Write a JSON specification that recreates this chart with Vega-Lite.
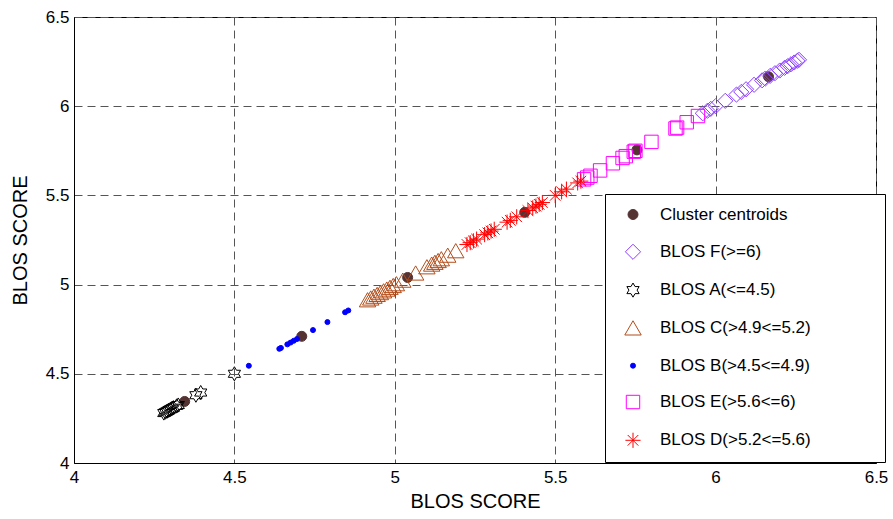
{
  "$schema": "https://vega.github.io/schema/vega-lite/v6.json",
  "width": 802,
  "height": 446,
  "autosize": "none",
  "padding": {"left": 74, "top": 17, "right": 17, "bottom": 56},
  "background": "white",
  "data": {
    "values": [
      {"series": "Cluster centroids", "score": 4.345},
      {"series": "Cluster centroids", "score": 4.71},
      {"series": "Cluster centroids", "score": 5.04},
      {"series": "Cluster centroids", "score": 5.405},
      {"series": "Cluster centroids", "score": 5.755},
      {"series": "Cluster centroids", "score": 6.165},

      {"series": "BLOS F(>=6)", "score": 5.96},
      {"series": "BLOS F(>=6)", "score": 5.975},
      {"series": "BLOS F(>=6)", "score": 5.985},
      {"series": "BLOS F(>=6)", "score": 6.0},
      {"series": "BLOS F(>=6)", "score": 6.03},
      {"series": "BLOS F(>=6)", "score": 6.065},
      {"series": "BLOS F(>=6)", "score": 6.08},
      {"series": "BLOS F(>=6)", "score": 6.095},
      {"series": "BLOS F(>=6)", "score": 6.12},
      {"series": "BLOS F(>=6)", "score": 6.145},
      {"series": "BLOS F(>=6)", "score": 6.155},
      {"series": "BLOS F(>=6)", "score": 6.17},
      {"series": "BLOS F(>=6)", "score": 6.185},
      {"series": "BLOS F(>=6)", "score": 6.2},
      {"series": "BLOS F(>=6)", "score": 6.215},
      {"series": "BLOS F(>=6)", "score": 6.225},
      {"series": "BLOS F(>=6)", "score": 6.235},
      {"series": "BLOS F(>=6)", "score": 6.245},
      {"series": "BLOS F(>=6)", "score": 6.255},
      {"series": "BLOS F(>=6)", "score": 6.26},

      {"series": "BLOS A(<=4.5)", "score": 4.28},
      {"series": "BLOS A(<=4.5)", "score": 4.285},
      {"series": "BLOS A(<=4.5)", "score": 4.29},
      {"series": "BLOS A(<=4.5)", "score": 4.295},
      {"series": "BLOS A(<=4.5)", "score": 4.3},
      {"series": "BLOS A(<=4.5)", "score": 4.305},
      {"series": "BLOS A(<=4.5)", "score": 4.31},
      {"series": "BLOS A(<=4.5)", "score": 4.32},
      {"series": "BLOS A(<=4.5)", "score": 4.325},
      {"series": "BLOS A(<=4.5)", "score": 4.38},
      {"series": "BLOS A(<=4.5)", "score": 4.395},
      {"series": "BLOS A(<=4.5)", "score": 4.5},

      {"series": "BLOS C(>4.9<=5.2)", "score": 4.915},
      {"series": "BLOS C(>4.9<=5.2)", "score": 4.925},
      {"series": "BLOS C(>4.9<=5.2)", "score": 4.935},
      {"series": "BLOS C(>4.9<=5.2)", "score": 4.945},
      {"series": "BLOS C(>4.9<=5.2)", "score": 4.955},
      {"series": "BLOS C(>4.9<=5.2)", "score": 4.965},
      {"series": "BLOS C(>4.9<=5.2)", "score": 4.975},
      {"series": "BLOS C(>4.9<=5.2)", "score": 4.985},
      {"series": "BLOS C(>4.9<=5.2)", "score": 4.995},
      {"series": "BLOS C(>4.9<=5.2)", "score": 5.005},
      {"series": "BLOS C(>4.9<=5.2)", "score": 5.025},
      {"series": "BLOS C(>4.9<=5.2)", "score": 5.065},
      {"series": "BLOS C(>4.9<=5.2)", "score": 5.1},
      {"series": "BLOS C(>4.9<=5.2)", "score": 5.115},
      {"series": "BLOS C(>4.9<=5.2)", "score": 5.125},
      {"series": "BLOS C(>4.9<=5.2)", "score": 5.135},
      {"series": "BLOS C(>4.9<=5.2)", "score": 5.145},
      {"series": "BLOS C(>4.9<=5.2)", "score": 5.165},
      {"series": "BLOS C(>4.9<=5.2)", "score": 5.19},

      {"series": "BLOS B(>4.5<=4.9)", "score": 4.545},
      {"series": "BLOS B(>4.5<=4.9)", "score": 4.64},
      {"series": "BLOS B(>4.5<=4.9)", "score": 4.645},
      {"series": "BLOS B(>4.5<=4.9)", "score": 4.665},
      {"series": "BLOS B(>4.5<=4.9)", "score": 4.675},
      {"series": "BLOS B(>4.5<=4.9)", "score": 4.685},
      {"series": "BLOS B(>4.5<=4.9)", "score": 4.695},
      {"series": "BLOS B(>4.5<=4.9)", "score": 4.745},
      {"series": "BLOS B(>4.5<=4.9)", "score": 4.79},
      {"series": "BLOS B(>4.5<=4.9)", "score": 4.845},
      {"series": "BLOS B(>4.5<=4.9)", "score": 4.855},

      {"series": "BLOS E(>5.6<=6)", "score": 5.59},
      {"series": "BLOS E(>5.6<=6)", "score": 5.6},
      {"series": "BLOS E(>5.6<=6)", "score": 5.61},
      {"series": "BLOS E(>5.6<=6)", "score": 5.64},
      {"series": "BLOS E(>5.6<=6)", "score": 5.68},
      {"series": "BLOS E(>5.6<=6)", "score": 5.71},
      {"series": "BLOS E(>5.6<=6)", "score": 5.72},
      {"series": "BLOS E(>5.6<=6)", "score": 5.745},
      {"series": "BLOS E(>5.6<=6)", "score": 5.75},
      {"series": "BLOS E(>5.6<=6)", "score": 5.8},
      {"series": "BLOS E(>5.6<=6)", "score": 5.875},
      {"series": "BLOS E(>5.6<=6)", "score": 5.88},
      {"series": "BLOS E(>5.6<=6)", "score": 5.91},
      {"series": "BLOS E(>5.6<=6)", "score": 5.945},

      {"series": "BLOS D(>5.2<=5.6)", "score": 5.225},
      {"series": "BLOS D(>5.2<=5.6)", "score": 5.235},
      {"series": "BLOS D(>5.2<=5.6)", "score": 5.245},
      {"series": "BLOS D(>5.2<=5.6)", "score": 5.255},
      {"series": "BLOS D(>5.2<=5.6)", "score": 5.28},
      {"series": "BLOS D(>5.2<=5.6)", "score": 5.29},
      {"series": "BLOS D(>5.2<=5.6)", "score": 5.3},
      {"series": "BLOS D(>5.2<=5.6)", "score": 5.31},
      {"series": "BLOS D(>5.2<=5.6)", "score": 5.35},
      {"series": "BLOS D(>5.2<=5.6)", "score": 5.36},
      {"series": "BLOS D(>5.2<=5.6)", "score": 5.38},
      {"series": "BLOS D(>5.2<=5.6)", "score": 5.415},
      {"series": "BLOS D(>5.2<=5.6)", "score": 5.43},
      {"series": "BLOS D(>5.2<=5.6)", "score": 5.44},
      {"series": "BLOS D(>5.2<=5.6)", "score": 5.45},
      {"series": "BLOS D(>5.2<=5.6)", "score": 5.46},
      {"series": "BLOS D(>5.2<=5.6)", "score": 5.5},
      {"series": "BLOS D(>5.2<=5.6)", "score": 5.52},
      {"series": "BLOS D(>5.2<=5.6)", "score": 5.535},
      {"series": "BLOS D(>5.2<=5.6)", "score": 5.57},
      {"series": "BLOS D(>5.2<=5.6)", "score": 5.58}
    ]
  },
  "mark": {"type": "point", "opacity": 1, "strokeWidth": 1},
  "encoding": {
    "x": {
      "field": "score",
      "type": "quantitative",
      "title": "BLOS SCORE",
      "scale": {"domain": [4, 6.5], "nice": false, "zero": false},
      "axis": {
        "values": [4, 4.5, 5, 5.5, 6, 6.5],
        "format": ".1~f",
        "labelPadding": 6,
        "titleY": 28,
        "titleBaseline": "top"
      }
    },
    "y": {
      "field": "score",
      "type": "quantitative",
      "title": "BLOS SCORE",
      "scale": {"domain": [4, 6.5], "nice": false, "zero": false},
      "axis": {
        "values": [4, 4.5, 5, 5.5, 6, 6.5],
        "format": ".1~f",
        "labelPadding": 5,
        "titleX": -54,
        "titleY": 223,
        "titleAngle": -90,
        "titleAlign": "center",
        "titleBaseline": "middle"
      }
    },
    "shape": {
      "field": "series",
      "type": "nominal",
      "title": null,
      "legend": {"labelExpr": "datum.label + '\u00a0\u00a0\u00a0\u00a0\u00a0\u00a0\u00a0\u00a0\u00a0\u00a0\u00a0\u00a0\u00a0\u200b'"},
      "scale": {
        "domain": ["Cluster centroids", "BLOS F(>=6)", "BLOS A(<=4.5)", "BLOS C(>4.9<=5.2)", "BLOS B(>4.5<=4.9)", "BLOS E(>5.6<=6)", "BLOS D(>5.2<=5.6)"],
        "range": [
          "circle",
          "diamond",
          "M0,-1L0.289,-0.5L0.866,-0.5L0.577,0L0.866,0.5L0.289,0.5L0,1L-0.289,0.5L-0.866,0.5L-0.577,0L-0.866,-0.5L-0.289,-0.5Z",
          "triangle-up",
          "circle",
          "square",
          "M-1,0L1,0M0,-1L0,1M-0.7,-0.7L0.7,0.7M-0.7,0.7L0.7,-0.7"
        ]
      }
    },
    "size": {
      "field": "series",
      "type": "nominal",
      "title": null,
      "legend": {"labelExpr": "datum.label + '\u00a0\u00a0\u00a0\u00a0\u00a0\u00a0\u00a0\u00a0\u00a0\u00a0\u00a0\u00a0\u00a0\u200b'"},
      "scale": {
        "type": "ordinal",
        "domain": ["Cluster centroids", "BLOS F(>=6)", "BLOS A(<=4.5)", "BLOS C(>4.9<=5.2)", "BLOS B(>4.5<=4.9)", "BLOS E(>5.6<=6)", "BLOS D(>5.2<=5.6)"],
        "range": [100, 230, 200, 270, 25, 180, 230]
      }
    },
    "stroke": {
      "field": "series",
      "type": "nominal",
      "title": null,
      "legend": {"labelExpr": "datum.label + '\u00a0\u00a0\u00a0\u00a0\u00a0\u00a0\u00a0\u00a0\u00a0\u00a0\u00a0\u00a0\u00a0\u200b'"},
      "scale": {
        "domain": ["Cluster centroids", "BLOS F(>=6)", "BLOS A(<=4.5)", "BLOS C(>4.9<=5.2)", "BLOS B(>4.5<=4.9)", "BLOS E(>5.6<=6)", "BLOS D(>5.2<=5.6)"],
        "range": ["#553333", "#8B3DFF", "#000000", "#B34D1A", "#0000FF", "#FF00FF", "#FF0000"]
      }
    },
    "fill": {
      "field": "series",
      "type": "nominal",
      "title": null,
      "legend": {"labelExpr": "datum.label + '\u00a0\u00a0\u00a0\u00a0\u00a0\u00a0\u00a0\u00a0\u00a0\u00a0\u00a0\u00a0\u00a0\u200b'"},
      "scale": {
        "domain": ["Cluster centroids", "BLOS F(>=6)", "BLOS A(<=4.5)", "BLOS C(>4.9<=5.2)", "BLOS B(>4.5<=4.9)", "BLOS E(>5.6<=6)", "BLOS D(>5.2<=5.6)"],
        "range": ["#553333", "transparent", "transparent", "transparent", "#0000FF", "transparent", "transparent"]
      }
    }
  },
  "config": {
    "font": "Liberation Sans",
    "view": {"stroke": "black", "strokeWidth": 1},
    "axis": {
      "labelFont": "Liberation Sans",
      "labelFontSize": 17,
      "labelColor": "black",
      "titleFont": "Liberation Sans",
      "titleFontSize": 20,
      "titleFontWeight": "normal",
      "titleColor": "black",
      "domainColor": "black",
      "grid": true,
      "gridColor": "#555555",
      "gridDash": [8, 5],
      "gridOpacity": 1,
      "ticks": false,
      "labelOverlap": false,
      "labelFlush": false,
      "labelBound": false
    },
    "legend": {
      "orient": "none",
      "legendX": 531,
      "legendY": 177,
      "padding": 12,
      "strokeColor": "black",
      "fillColor": "white",
      "labelFont": "Liberation Sans",
      "labelFontSize": 17,
      "labelColor": "black",
      "labelOffset": 18,
      "labelLimit": 400,
      "rowPadding": 18.3,
      "symbolOffset": 7,
      "symbolOpacity": 1,
      "symbolStrokeWidth": 1
    }
  }
}
